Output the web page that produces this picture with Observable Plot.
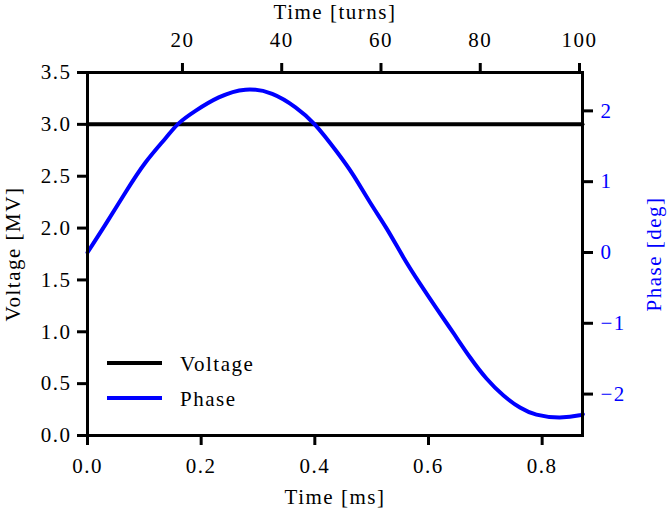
<!DOCTYPE html>
<html>
<head>
<meta charset="utf-8">
<script src="https://cdn.jsdelivr.net/npm/d3@7"></script>
<script src="https://cdn.jsdelivr.net/npm/@observablehq/plot@0.6"></script>
<style>
  body { margin: 0; background: #fff; }
  #chart { position: relative; width: 670px; height: 512px; background: #fff; }
  #chart > svg { position: absolute; left: 0; top: 0; }
  #chart svg, #chart svg text { font-family: "Liberation Serif", serif; }
</style>
</head>
<body>
<div id="chart"></div>
<script>
// ---- data ----
const timeMs   = [0.000, 0.032, 0.067, 0.102, 0.137, 0.160, 0.190, 0.231, 0.278, 0.325, 0.366, 0.401, 0.439, 0.468, 0.497, 0.527, 0.556, 0.585, 0.615, 0.644, 0.673, 0.702, 0.732, 0.761, 0.790, 0.831, 0.866, 0.871];
const phaseDeg = [0.00, 0.40, 0.85, 1.27, 1.61, 1.82, 2.00, 2.19, 2.30, 2.24, 2.05, 1.80, 1.42, 1.09, 0.71, 0.33, -0.07, -0.44, -0.80, -1.14, -1.48, -1.78, -2.02, -2.19, -2.29, -2.33, -2.30, -2.28];
const voltageTime = [0, 0.871];
const voltageMV   = [3.0, 3.0];

const voltageTicks = [0, 0.5, 1.0, 1.5, 2.0, 2.5, 3.0, 3.5];
const timeTicks    = [0.0, 0.2, 0.4, 0.6, 0.8];
const phaseTicks   = [-2, -1, 0, 1, 2];
const turnTicks    = [20, 40, 60, 80, 100];

const seriesNames  = ["Voltage", "Phase"];
const seriesColors = ["black", "blue"];

// ---- layout ----
const W = 670, H = 512;
const margins = {marginTop: 72, marginRight: 88, marginBottom: 77, marginLeft: 87};
const FONT = '"Liberation Serif", serif';
const style = {
  fontFamily: FONT,
  fontSize: "21px",
  letterSpacing: "1.5px",
  background: "transparent",
  overflow: "visible"
};
const xDomain = [0, 0.871];

const voltageData = voltageTime.map((t, i) => ({t, v: voltageMV[i]}));
const phaseData = timeMs.map((t, i) => ({t, p: phaseDeg[i]}));

const plotA = Plot.plot({
  width: W, height: H, ...margins, style,
  x: {domain: xDomain},
  y: {domain: [0, 3.5]},
  marks: [
    Plot.line(voltageData, {x: "t", y: "v", stroke: seriesColors[0], strokeWidth: 4}),
    Plot.axisX({anchor: "bottom", ticks: timeTicks, tickFormat: d3.format(".1f"),
      tickSize: 10, tickPadding: 13, strokeWidth: 3, fill: "black",
      label: "Time [ms]", labelAnchor: "center", labelOffset: 68, labelArrow: "none"}),
    Plot.axisY({anchor: "left", ticks: voltageTicks, tickFormat: d3.format(".1f"),
      tickSize: 10, tickPadding: 6, strokeWidth: 3, fill: "black",
      label: "Voltage [MV]", labelAnchor: "center", labelOffset: 82, labelArrow: "none"})
  ]
});

const plotB = Plot.plot({
  width: W, height: H, ...margins, style,
  x: {domain: xDomain, axis: null},
  y: {domain: [-2.585, 2.542]},
  marks: [
    Plot.line(phaseData, {x: "t", y: "p", stroke: seriesColors[1], strokeWidth: 4, curve: "natural"}),
    Plot.axisY({anchor: "right", ticks: phaseTicks, tickFormat: d3.format("d"),
      tickSize: 10, tickPadding: 8, strokeWidth: 3, stroke: "black", fill: "blue",
      label: "Phase [deg]", labelAnchor: "center", labelOffset: 78, labelArrow: "none"})
  ]
});

const plotC = Plot.plot({
  width: W, height: H, ...margins, style,
  x: {domain: [0.87, 100.6]},
  marks: [
    Plot.frame({stroke: "black", strokeWidth: 3}),
    Plot.axisX({anchor: "top", ticks: turnTicks, tickFormat: d3.format("d"),
      tickSize: 10, tickPadding: 16, strokeWidth: 3, fill: "black",
      label: "Time [turns]", labelAnchor: "center", labelOffset: 68, labelArrow: "none"})
  ]
});

const chart = document.getElementById("chart");
chart.append(plotA, plotB, plotC);

// ---- legend ----
const NS = "http://www.w3.org/2000/svg";
const leg = document.createElementNS(NS, "svg");
leg.setAttribute("width", W);
leg.setAttribute("height", H);
seriesNames.forEach((name, i) => {
  const y = 363 + i * 35;
  const ln = document.createElementNS(NS, "line");
  ln.setAttribute("x1", 107); ln.setAttribute("x2", 162);
  ln.setAttribute("y1", y); ln.setAttribute("y2", y);
  ln.setAttribute("stroke", seriesColors[i]);
  ln.setAttribute("stroke-width", 4);
  leg.appendChild(ln);
  const tx = document.createElementNS(NS, "text");
  tx.setAttribute("x", 180);
  tx.setAttribute("y", y + 8);
  tx.setAttribute("font-size", 21);
  tx.setAttribute("letter-spacing", "1.5px");
  tx.setAttribute("fill", "black");
  tx.textContent = name;
  leg.appendChild(tx);
});
chart.appendChild(leg);
</script>
</body>
</html>
